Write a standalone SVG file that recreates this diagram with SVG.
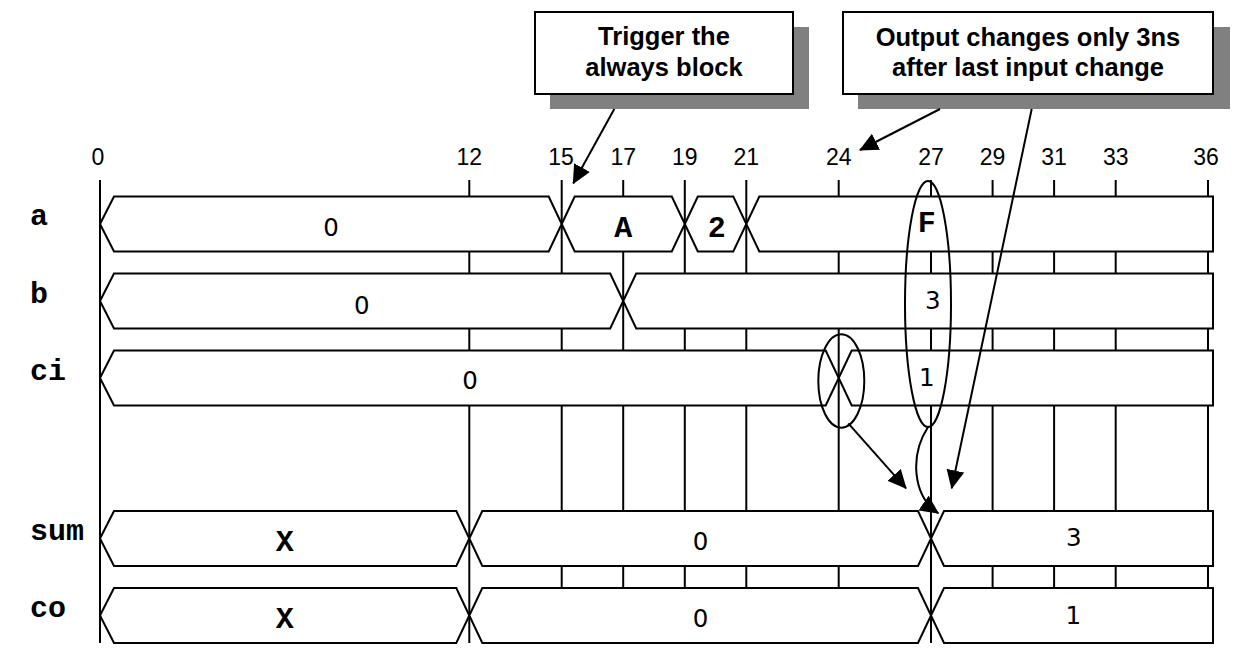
<svg xmlns="http://www.w3.org/2000/svg" width="1250" height="667" viewBox="0 0 1250 667">
<style>
.grid line{stroke:#000;stroke-width:2}
.wave path{fill:#fff;stroke:#000;stroke-width:2;stroke-linejoin:miter}
.tick{font-family:"Liberation Sans",Arial,sans-serif;font-size:23px;text-anchor:middle;fill:#000}
.sig{font-family:"Liberation Mono","Courier New",monospace;font-weight:bold;font-size:30px;fill:#000}
.vb{font-family:"Liberation Mono","Courier New",monospace;font-weight:bold;font-size:30px;text-anchor:middle;fill:#000}
.vs{font-family:"DejaVu Sans",sans-serif;font-size:24.5px;text-anchor:middle;fill:#000}
.box{fill:#fff;stroke:#000;stroke-width:2}
.shadow{fill:#808080}
.ctext{font-family:"Liberation Sans",Arial,sans-serif;font-weight:bold;font-size:25.5px;text-anchor:middle;fill:#000}
.ell{fill:none;stroke:#000;stroke-width:2}
.conn{fill:none;stroke:#000;stroke-width:2;marker-end:url(#ah)}
</style>
<defs>
<marker id="ah" markerUnits="userSpaceOnUse" markerWidth="19" markerHeight="18" refX="18" refY="9" orient="auto">
<path d="M0,0 L19,9 L0,18 Z" fill="#000"/>
</marker>
</defs>
<rect width="1250" height="667" fill="#fff"/>

<g id="time-axis">
<text class="tick" x="98" y="165">0</text>
<text class="tick" x="469.3" y="165">12</text>
<text class="tick" x="561" y="165">15</text>
<text class="tick" x="623.2" y="165">17</text>
<text class="tick" x="684.8" y="165">19</text>
<text class="tick" x="746.3" y="165">21</text>
<text class="tick" x="838.7" y="165">24</text>
<text class="tick" x="931" y="165">27</text>
<text class="tick" x="992.6" y="165">29</text>
<text class="tick" x="1054.1" y="165">31</text>
<text class="tick" x="1115.7" y="165">33</text>
<text class="tick" x="1206" y="165">36</text>
<g class="grid">
<line x1="100" y1="180" x2="100" y2="643"/>
<line x1="469.3" y1="180" x2="469.3" y2="643"/>
<line x1="561.7" y1="180" x2="561.7" y2="643"/>
<line x1="623.2" y1="180" x2="623.2" y2="643"/>
<line x1="684.8" y1="180" x2="684.8" y2="643"/>
<line x1="746.3" y1="180" x2="746.3" y2="643"/>
<line x1="838.7" y1="180" x2="838.7" y2="643"/>
<line x1="931" y1="180" x2="931" y2="643"/>
<line x1="992.6" y1="180" x2="992.6" y2="643"/>
<line x1="1054.1" y1="180" x2="1054.1" y2="643"/>
<line x1="1115.7" y1="180" x2="1115.7" y2="643"/>
<line x1="1208" y1="180" x2="1208" y2="643"/>
</g>
</g>

<g id="signal-a" class="wave">
<text class="sig" x="30" y="225">a</text>
<path d="M100,224 L114,196.5 L548.7,196.5 L561.7,224 L548.7,251.5 L114,251.5 Z"/>
<path d="M561.7,224 L574.7,196.5 L671.8,196.5 L684.8,224 L671.8,251.5 L574.7,251.5 Z"/>
<path d="M684.8,224 L697.8,196.5 L733.3,196.5 L746.3,224 L733.3,251.5 L697.8,251.5 Z"/>
<path d="M746.3,224 L759.3,196.5 L1213,196.5 L1213,251.5 L759.3,251.5 Z"/>
<text class="vs" x="331" y="236">0</text>
<text class="vb" x="623.3" y="237">A</text>
<text class="vb" x="716.7" y="237">2</text>
<text class="vb" x="926.7" y="232">F</text>
</g>

<g id="signal-b" class="wave">
<text class="sig" x="30" y="303">b</text>
<path d="M100,301 L114,273.5 L610.2,273.5 L623.2,301 L610.2,328.5 L114,328.5 Z"/>
<path d="M623.2,301 L636.2,273.5 L1213,273.5 L1213,328.5 L636.2,328.5 Z"/>
<text class="vs" x="361.7" y="314">0</text>
<text class="vs" x="932.7" y="309">3</text>
</g>

<g id="signal-ci" class="wave">
<text class="sig" x="30" y="380">ci</text>
<path d="M100,378 L114,350.5 L825.7,350.5 L838.7,378 L825.7,405.5 L114,405.5 Z"/>
<path d="M838.7,378 L851.7,350.5 L1213,350.5 L1213,405.5 L851.7,405.5 Z"/>
<text class="vs" x="470" y="389.3">0</text>
<text class="vs" x="926.7" y="386">1</text>
</g>

<g id="signal-sum" class="wave">
<text class="sig" x="30" y="540">sum</text>
<path d="M100,538.5 L114,511 L456.3,511 L469.3,538.5 L456.3,566 L114,566 Z"/>
<path d="M469.3,538.5 L482.3,511 L918,511 L931,538.5 L918,566 L482.3,566 Z"/>
<path d="M931,538.5 L944,511 L1213,511 L1213,566 L944,566 Z"/>
<text class="vb" x="284.7" y="550.7">X</text>
<text class="vs" x="700.5" y="550">0</text>
<text class="vs" x="1073.7" y="546">3</text>
</g>

<g id="signal-co" class="wave">
<text class="sig" x="30" y="617">co</text>
<path d="M100,615.5 L114,588 L456.3,588 L469.3,615.5 L456.3,643 L114,643 Z"/>
<path d="M469.3,615.5 L482.3,588 L918,588 L931,615.5 L918,643 L482.3,643 Z"/>
<path d="M931,615.5 L944,588 L1213,588 L1213,643 L944,643 Z"/>
<text class="vb" x="284.7" y="627.7">X</text>
<text class="vs" x="700.5" y="626.7">0</text>
<text class="vs" x="1073.3" y="624">1</text>
</g>

<g id="highlights">
<ellipse class="ell" cx="841.3" cy="381" rx="23" ry="46.7"/>
<ellipse class="ell" cx="928" cy="304" rx="23" ry="123"/>
</g>

<g id="callout-trigger">
<rect class="shadow" x="550" y="27" width="259" height="82"/>
<rect class="box" x="535" y="12" width="258" height="82"/>
<text class="ctext" x="664" y="45">Trigger the</text>
<text class="ctext" x="664" y="76">always block</text>
</g>

<g id="callout-output">
<rect class="shadow" x="858" y="27" width="372" height="82"/>
<rect class="box" x="843" y="12" width="370" height="82"/>
<text class="ctext" x="1028" y="46">Output changes only 3ns</text>
<text class="ctext" x="1028" y="76">after last input change</text>
</g>

<g id="connectors">
<path class="conn" d="M614.3,109 L573.3,183.3"/>
<path class="conn" d="M940,109 L860,150"/>
<path class="conn" d="M1031.7,109 L951.7,488.3"/>
<path class="conn" d="M848.3,423.3 L906,488.3"/>
<path class="conn" d="M928,427 C910,455 912,495 938.3,513.3"/>
</g>
</svg>
